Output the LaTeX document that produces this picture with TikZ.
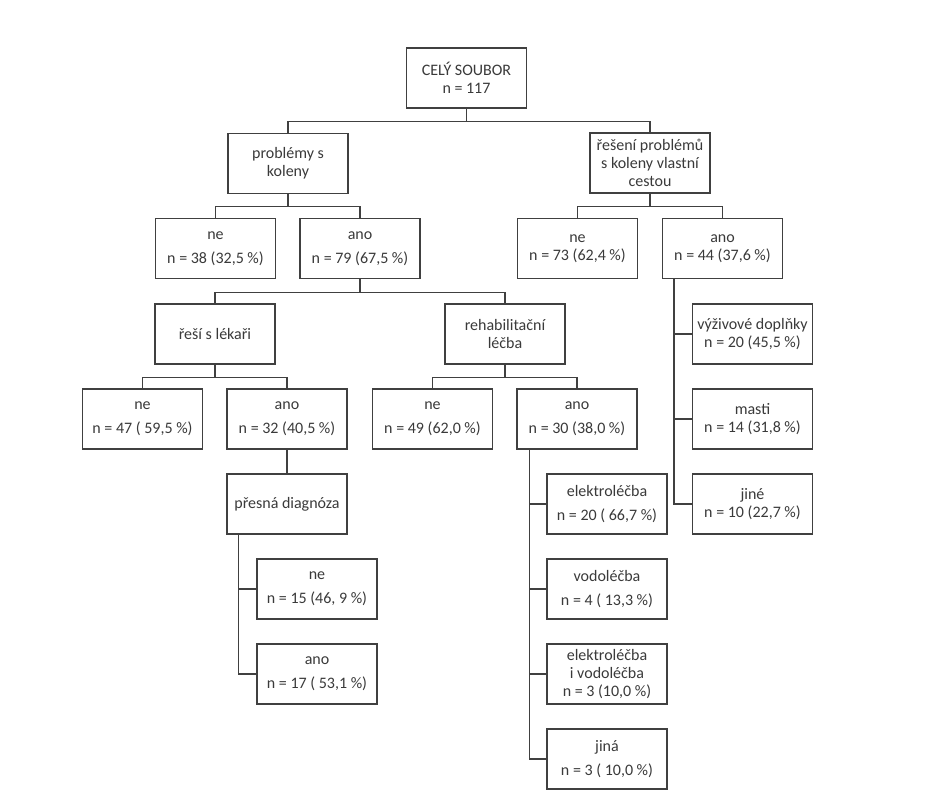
\documentclass[tikz,border=0pt]{standalone}
\usepackage{fontspec}
\setmainfont{Carlito}
\definecolor{ink}{HTML}{3A3A3A}
\definecolor{edge}{HTML}{404040}
\begin{document}
\begin{tikzpicture}[x=1pt,y=-1pt,
  box/.style={draw=edge, line width=1.3pt, minimum width=120pt, minimum height=60pt,
    inner sep=2pt, align=center, text=ink},
  tight/.style={box, font=\fontsize{16}{18}\selectfont},
  loose/.style={box, font=\fontsize{16}{24}\selectfont},
  link/.style={draw=edge, line width=1.3pt}]
\fill[white] (0,0) rectangle (936,800);
\useasboundingbox (0,0) rectangle (936,800);
% level 0-1
\node[tight] (root) at (466.5,78) {CELÝ SOUBOR\\n = 117};
\node[tight] (prob) at (288,163.5) {problémy s\\koleny};
\node[tight] (res) at (650,163) {řešení problémů\\s koleny vlastní\\cestou};
% level 2
\node[loose] (ne38) at (215.5,248.5) {ne\\n = 38 (32,5 \%)};
\node[loose] (ano79) at (360,248.5) {ano\\n = 79 (67,5 \%)};
\node[tight] (ne73) at (577.5,248.5) {ne\\n = 73 (62,4 \%)};
\node[tight] (ano44) at (722.5,248.5) {ano\\n = 44 (37,6 \%)};
% level 3
\node[tight] (reshi) at (215,334) {řeší s lékaři};
\node[tight] (rehab) at (505,334) {rehabilitační\\léčba};
\node[tight] (vyz) at (752.5,334) {výživové doplňky\\n = 20 (45,5 \%)};
% level 4
\node[loose] (ne47) at (142.5,419) {ne\\n = 47 ( 59,5 \%)};
\node[loose] (ano32) at (287,419) {ano\\n = 32 (40,5 \%)};
\node[loose] (ne49) at (432.5,419) {ne\\n = 49 (62,0 \%)};
\node[loose] (ano30) at (577,419) {ano\\n = 30 (38,0 \%)};
\node[tight] (masti) at (752.5,419) {masti\\n = 14 (31,8 \%)};
% level 5
\node[tight] (presna) at (287,504) {přesná diagnóza};
\node[loose] (elektro) at (607,504) {elektroléčba\\n = 20 ( 66,7 \%)};
\node[tight] (jine) at (752.5,504) {jiné\\n = 10 (22,7 \%)};
% level 6+
\node[loose] (ne15) at (317,589) {ne\\n = 15 (46, 9 \%)};
\node[loose] (ano17) at (317,674) {ano\\n = 17 ( 53,1 \%)};
\node[loose] (vodo) at (607,589) {vodoléčba\\n = 4 ( 13,3 \%)};
\node[tight] (elvod) at (607,674) {elektroléčba\\i vodoléčba\\n = 3 (10,0 \%)};
\node[loose] (jina) at (607,759) {jiná\\n = 3 ( 10,0 \%)};
% connectors
\draw[link] (root.south) -- ++(0,13) -| (prob.north);
\draw[link] (root.south) -- ++(0,13) -| (res.north);
\draw[link] (prob.south) -- ++(0,12) -| (ne38.north);
\draw[link] (prob.south) -- ++(0,12) -| (ano79.north);
\draw[link] (res.south) -- ++(0,13) -| (ne73.north);
\draw[link] (res.south) -- ++(0,13) -| (ano44.north);
\draw[link] (ano79.south) -- ++(0,13) -| (reshi.north);
\draw[link] (ano79.south) -- ++(0,13) -| (rehab.north);
\draw[link] (reshi.south) -- ++(0,13) -| (ne47.north);
\draw[link] (reshi.south) -- ++(0,13) -| (ano32.north);
\draw[link] (rehab.south) -- ++(0,13) -| (ne49.north);
\draw[link] (rehab.south) -- ++(0,13) -| (ano30.north);
\draw[link] (ano32.south) -- (presna.north);
\draw[link] ([xshift=12pt]presna.south west) |- (ne15.west);
\draw[link] ([xshift=12pt]presna.south west) |- (ano17.west);
\draw[link] ([xshift=13pt]ano30.south west) |- (elektro.west);
\draw[link] ([xshift=13pt]ano30.south west) |- (vodo.west);
\draw[link] ([xshift=13pt]ano30.south west) |- (elvod.west);
\draw[link] ([xshift=13pt]ano30.south west) |- (jina.west);
\draw[link] ([xshift=12pt]ano44.south west) |- (vyz.west);
\draw[link] ([xshift=12pt]ano44.south west) |- (masti.west);
\draw[link] ([xshift=12pt]ano44.south west) |- (jine.west);
\end{tikzpicture}
\end{document}
